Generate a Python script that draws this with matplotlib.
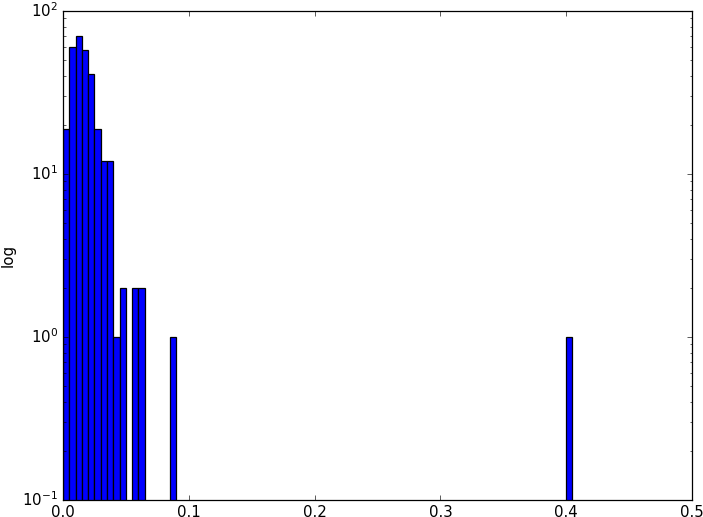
import matplotlib
matplotlib.use("Agg")
import matplotlib.pyplot as plt
import numpy as np

plt.style.use('classic')

bin_width = 0.005
bin_starts = [0.000, 0.005, 0.010, 0.015, 0.020, 0.025, 0.030, 0.035, 0.040, 0.045,
              0.055, 0.060, 0.085, 0.400]
counts = [19, 60, 70, 58, 41, 19, 12, 12, 1, 2, 2, 2, 1, 1]

DPI = 90
fig = plt.figure(figsize=(703/DPI, 517/DPI), dpi=DPI)
ax = fig.add_axes([63/703, 17/517, 629/703, 489/517])
ax.bar(bin_starts, counts, width=bin_width, bottom=1e-3, align='edge',
       color='blue', edgecolor='black', linewidth=1.0, log=True)
ax.set_yscale('log')
ax.set_xlim(0, 0.5)
ax.set_ylim(0.1, 100)
ax.set_ylabel('log')
fig.savefig('out.png', dpi=DPI)
